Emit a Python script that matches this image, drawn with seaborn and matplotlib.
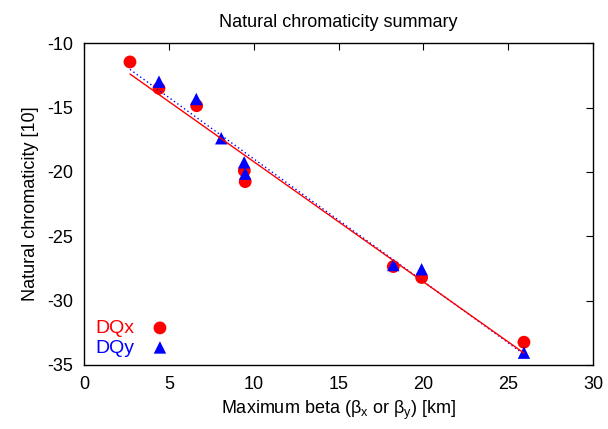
import numpy as np
import matplotlib
matplotlib.use("Agg")
import matplotlib.pyplot as plt
import seaborn as sns

# values
beta_x = [2.71, 4.42, 6.64, 9.45, 9.50, 18.23, 19.90, 25.93]
dqx = [-11.45, -13.5, -14.85, -19.9, -20.75, -27.35, -28.2, -33.23]
beta_y = [4.42, 6.62, 8.09, 9.44, 9.50, 18.23, 19.90, 25.93]
dqy = [-12.98, -14.33, -17.38, -19.25, -20.13, -27.23, -27.56, -34.04]

sns.set_style("white", {"text.color": "black", "axes.labelcolor": "black",
                        "xtick.color": "black", "ytick.color": "black"})
plt.rcParams['font.family'] = ['Liberation Sans', 'DejaVu Sans']
plt.rcParams['mathtext.fontset'] = 'custom'
plt.rcParams['mathtext.rm'] = 'Liberation Sans'
plt.rcParams['mathtext.it'] = 'Liberation Sans'
plt.rcParams['axes.unicode_minus'] = False

fig = plt.figure(figsize=(6.08, 4.29), dpi=100)
ax = fig.add_axes([84 / 608, 1 - 365 / 429, 509 / 608, 321.7 / 429])

# linear fits over the data range
xs = np.array([min(beta_x), max(beta_x)])
px = np.polyfit(beta_x, dqx, 1)
py = np.polyfit(beta_y, dqy, 1)
sns.lineplot(x=xs, y=np.polyval(py, xs), color="blue", lw=1, ls=(0, (1, 2)), ax=ax)
sns.lineplot(x=xs, y=np.polyval(px, xs), color="red", lw=1, ax=ax)

sns.scatterplot(x=beta_x, y=dqx, color="red", marker="o", s=85, edgecolor="none",
                label="DQx", ax=ax)
sns.scatterplot(x=beta_y, y=dqy, color="blue", marker="^", s=80, edgecolor="none",
                label="DQy", ax=ax)

ax.set_xlim(0, 30)
ax.set_ylim(-35, -10)
ax.set_xticks(range(0, 31, 5))
ax.set_yticks(range(-35, -9, 5))
ax.tick_params(direction="in", top=True, right=True, length=5, labelsize=13, pad=8,
               colors="black")
for s in ax.spines.values():
    s.set_color("black")
    s.set_linewidth(1)

ax.set_title("Natural chromaticity summary", fontsize=13, pad=12, color="black")
ax.set_xlabel(r"Maximum beta ($\beta_x$ or $\beta_y$) [km]", fontsize=13, labelpad=4)
ax.set_ylabel("Natural chromaticity [10]", fontsize=13, labelpad=6)

ax.legend(loc="lower left", bbox_to_anchor=(0.0, -0.01), frameon=False, markerfirst=False,
          labelcolor="markerfacecolor", fontsize=14, handletextpad=0.7,
          labelspacing=0.1, borderaxespad=0.2, handlelength=1.2)

fig.savefig("out.png", dpi=100)
